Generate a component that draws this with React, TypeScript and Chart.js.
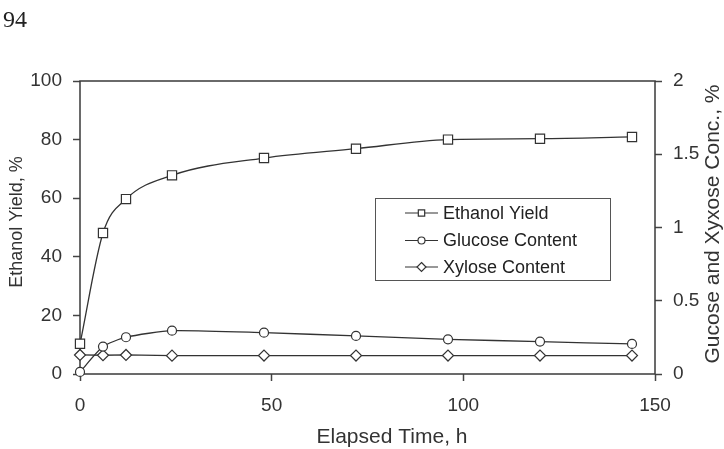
import React, { useEffect, useRef } from "react";
import { Chart, registerables } from "chart.js";

Chart.register(...registerables);

// ---- data ----
const timesH = [0, 6, 12, 24, 48, 72, 96, 120, 144];
const ethanolYield = [10.3, 48.1, 59.7, 67.8, 73.7, 76.9, 80.0, 80.3, 80.9];
const glucoseContent = [0.014, 0.187, 0.251, 0.296, 0.282, 0.26, 0.237, 0.221, 0.205];
const xyloseContent = [0.13, 0.128, 0.13, 0.125, 0.126, 0.126, 0.126, 0.126, 0.126];
const seriesLabels = ["Ethanol Yield", "Glucose Content", "Xylose Content"];
const xTicks = [0, 50, 100, 150];
const yLeftTicks = [0, 20, 40, 60, 80, 100];
const yRightTicks = [0, 0.5, 1, 1.5, 2];
const xTitle = "Elapsed Time, h";
const yLeftTitle = "Ethanol Yield, %";
const yRightTitle = "Gucose and Xyxose Conc., %";
const pageNumber = "94";

const FONT = "'Liberation Sans', Arial, sans-serif";
const INK = "#333";

function drawMarker(ctx: CanvasRenderingContext2D, style: string, x: number, y: number, r: number) {
  ctx.beginPath();
  if (style === "rect") {
    const s = r * Math.SQRT1_2;
    ctx.rect(x - s, y - s, 2 * s, 2 * s);
  } else if (style === "rectRot") {
    ctx.moveTo(x, y - r);
    ctx.lineTo(x + r, y);
    ctx.lineTo(x, y + r);
    ctx.lineTo(x - r, y);
    ctx.closePath();
  } else {
    ctx.arc(x, y, r, 0, Math.PI * 2);
  }
  ctx.fillStyle = "#fff";
  ctx.fill();
  ctx.stroke();
}

const overlayPlugin = {
  id: "overlay",
  beforeDatasetsDraw(chart: any) {
    const { ctx, chartArea: a } = chart;
    ctx.save();
    ctx.strokeStyle = "#3a3a3a";
    ctx.lineWidth = 1.5;
    ctx.strokeRect(a.left, a.top, a.right - a.left, a.bottom - a.top);
    ctx.restore();
  },
  afterDraw(chart: any) {
    const { ctx } = chart;
    ctx.save();
    ctx.fillStyle = INK;
    ctx.textBaseline = "middle";
    ctx.textAlign = "center";
    // x title
    ctx.font = `21px ${FONT}`;
    ctx.fillText(xTitle, 392, 437);
    // left title
    ctx.save();
    ctx.translate(17, 222);
    ctx.rotate(-Math.PI / 2);
    ctx.font = `18px ${FONT}`;
    ctx.fillText(yLeftTitle, 0, 0);
    ctx.restore();
    // right title
    ctx.save();
    ctx.translate(713, 224);
    ctx.rotate(-Math.PI / 2);
    ctx.font = `21px ${FONT}`;
    ctx.fillText(yRightTitle, 0, 0);
    ctx.restore();
    // page number
    ctx.textAlign = "left";
    ctx.textBaseline = "alphabetic";
    ctx.fillStyle = "#222";
    ctx.font = `24px 'Liberation Serif', serif`;
    ctx.fillText(pageNumber, 3, 27);

    // legend
    ctx.strokeStyle = "#555";
    ctx.lineWidth = 1;
    ctx.fillStyle = "#fff";
    ctx.fillRect(375.5, 198.5, 235, 82);
    ctx.strokeRect(375.5, 198.5, 235, 82);
    const rows = [213, 240.5, 267];
    const styles = ["rect", "circle", "rectRot"];
    const radii = [4.5, 3.5, 4.5];
    chart.data.datasets.forEach((ds: any, i: number) => {
      const y = rows[i];
      ctx.strokeStyle = INK;
      ctx.lineWidth = 1.2;
      ctx.beginPath();
      ctx.moveTo(405, y);
      ctx.lineTo(438, y);
      ctx.stroke();
      drawMarker(ctx, styles[i], 421.5, y, radii[i]);
      ctx.fillStyle = "#222";
      ctx.font = `18px ${FONT}`;
      ctx.textAlign = "left";
      ctx.textBaseline = "middle";
      ctx.fillText(ds.label, 443, y + 1);
    });
    ctx.restore();
  },
};

export default function App() {
  const ref = useRef<HTMLCanvasElement | null>(null);

  useEffect(() => {
    document.body.style.margin = "0";
    const canvas = ref.current;
    if (!canvas) return;

    const toPts = (vals: number[]) => timesH.map((t, i) => ({ x: t, y: vals[i] }));

    const common = {
      borderColor: INK,
      borderWidth: 1.3,
      pointBorderColor: INK,
      pointBackgroundColor: "#fff",
      pointBorderWidth: 1.2,
      clip: false as any,
    };

    const tickFont = { family: FONT, size: 19 };

    const chart = new Chart(canvas, {
      type: "line",
      data: {
        datasets: [
          {
            ...common,
            label: seriesLabels[0],
            data: toPts(ethanolYield),
            yAxisID: "y",
            pointStyle: "rect",
            pointRadius: 6.5,
            cubicInterpolationMode: "monotone",
          },
          {
            ...common,
            label: seriesLabels[1],
            data: toPts(glucoseContent),
            yAxisID: "y2",
            pointStyle: "circle",
            pointRadius: 4.5,
            tension: 0.2,
          },
          {
            ...common,
            label: seriesLabels[2],
            data: toPts(xyloseContent),
            yAxisID: "y2",
            pointStyle: "rectRot",
            pointRadius: 5.5,
            tension: 0,
          },
        ],
      },
      options: {
        responsive: false,
        maintainAspectRatio: false,
        animation: false,
        layout: { padding: { top: 81, left: 0, right: 0, bottom: 0 } },
        plugins: { legend: { display: false }, tooltip: { enabled: false } },
        scales: {
          x: {
            type: "linear",
            min: 0,
            max: 150,
            afterFit: (s: any) => {
              s.height = 75;
            },
            afterBuildTicks: (s: any) => {
              s.ticks = xTicks.map((v) => ({ value: v }));
            },
            ticks: {
              font: tickFont,
              color: INK,
              padding: 13,
              callback: (v: any) => String(v),
            },
            grid: {
              drawOnChartArea: false,
              drawTicks: true,
              tickLength: 7,
              tickColor: "#444",
              tickWidth: 1.5,
            },
            border: { display: false },
          },
          y: {
            type: "linear",
            position: "left",
            min: 0,
            max: 100,
            afterFit: (s: any) => {
              s.width = 80;
            },
            afterBuildTicks: (s: any) => {
              s.ticks = yLeftTicks.map((v) => ({ value: v }));
            },
            ticks: {
              font: tickFont,
              color: INK,
              padding: 11,
              callback: (v: any) => String(v),
            },
            grid: {
              drawOnChartArea: false,
              drawTicks: true,
              tickLength: 7,
              tickColor: "#444",
              tickWidth: 1.5,
            },
            border: { display: false },
          },
          y2: {
            type: "linear",
            position: "right",
            min: 0,
            max: 2,
            afterFit: (s: any) => {
              s.width = 69;
            },
            afterBuildTicks: (s: any) => {
              s.ticks = yRightTicks.map((v) => ({ value: v }));
            },
            ticks: {
              font: tickFont,
              color: INK,
              padding: 11,
              callback: (v: any) => String(v),
            },
            grid: {
              drawOnChartArea: false,
              drawTicks: true,
              tickLength: 7,
              tickColor: "#444",
              tickWidth: 1.5,
            },
            border: { display: false },
          },
        },
      },
      plugins: [overlayPlugin],
    } as any);

    return () => chart.destroy();
  }, []);

  return (
    <canvas
      ref={ref}
      width={724}
      height={449}
      style={{ display: "block", width: 724, height: 449 }}
    />
  );
}
